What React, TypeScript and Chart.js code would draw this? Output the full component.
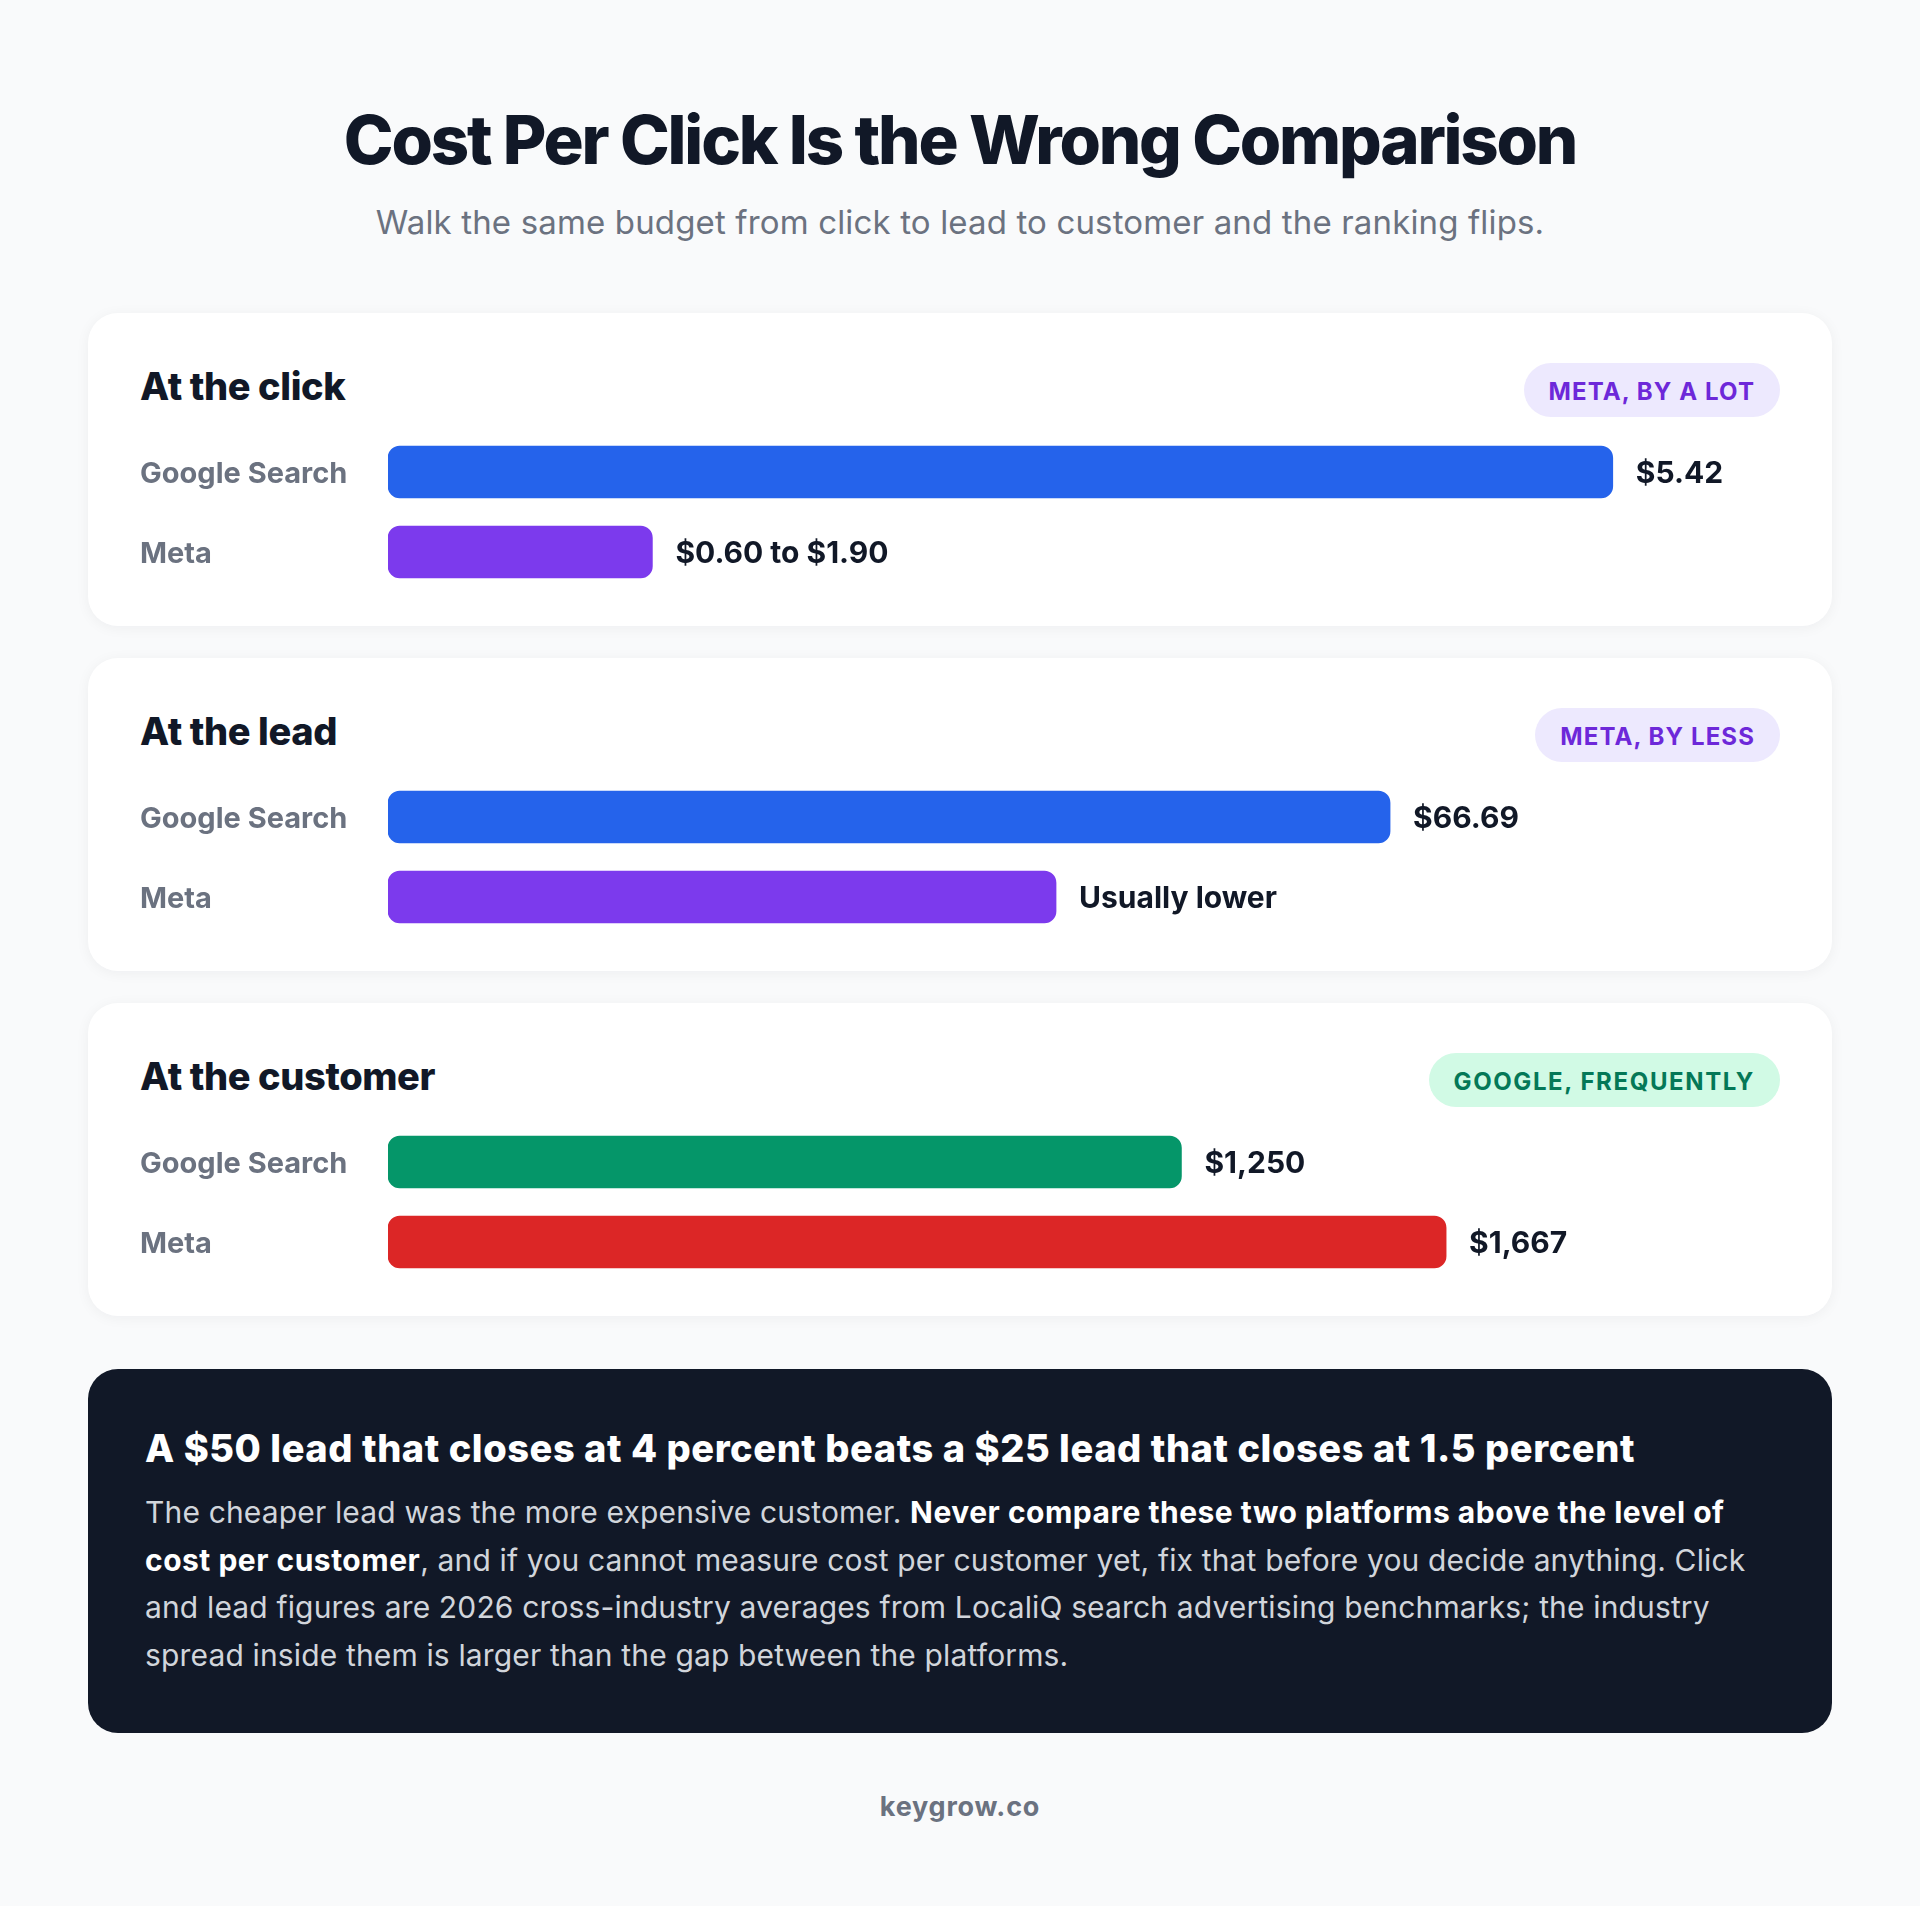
import React, { useEffect, useRef } from "react";
import { Chart, registerables } from "chart.js";

Chart.register(...registerables);

// ---------- data ----------
const platforms = ["Google Search", "Meta"];
const stageTitles = ["At the click", "At the lead", "At the customer"];
const stageBadges = ["META, BY A LOT", "META, BY LESS", "GOOGLE, FREQUENTLY"];
const clickValues = [5.42, 1.17];
const leadValues = [66.69, 44.46];
const customerValues = [1250, 1667];
const clickLabels = ["$5.42", "$0.60 to $1.90"];
const leadLabels = ["$66.69", "Usually lower"];
const customerLabels = ["$1,250", "$1,667"];
const stageAxisMax = [6.16, 92.64, 2193];
const clickColors = ["#2563eb", "#7c3aed"];
const leadColors = ["#2563eb", "#7c3aed"];
const customerColors = ["#059669", "#dc2626"];
const badgeThemes = ["purple", "purple", "green"];

const stages = [
  { title: stageTitles[0], badge: stageBadges[0], values: clickValues, labels: clickLabels, colors: clickColors, max: stageAxisMax[0], theme: badgeThemes[0] },
  { title: stageTitles[1], badge: stageBadges[1], values: leadValues, labels: leadLabels, colors: leadColors, max: stageAxisMax[1], theme: badgeThemes[1] },
  { title: stageTitles[2], badge: stageBadges[2], values: customerValues, labels: customerLabels, colors: customerColors, max: stageAxisMax[2], theme: badgeThemes[2] },
];

const FONT = "Inter, 'Noto Sans', sans-serif";

function StageChart({ values, labels, colors, max }: { values: number[]; labels: string[]; colors: string[]; max: number }) {
  const ref = useRef<HTMLCanvasElement | null>(null);
  useEffect(() => {
    if (!ref.current) return;
    const valueLabelPlugin = {
      id: "valueLabels",
      afterDatasetsDraw(chart: any) {
        const ctx = chart.ctx;
        const meta = chart.getDatasetMeta(0);
        ctx.save();
        ctx.font = `700 30px ${FONT}`;
        ctx.fillStyle = "#111827";
        ctx.textAlign = "left";
        ctx.textBaseline = "middle";
        meta.data.forEach((el: any, i: number) => {
          ctx.fillText(labels[i], el.x + 23, el.y + 2);
        });
        ctx.restore();
      },
    };
    const chart = new Chart(ref.current, {
      type: "bar",
      data: {
        labels: platforms,
        datasets: [
          {
            data: values,
            backgroundColor: colors,
            borderRadius: 12,
            borderSkipped: false,
            barThickness: 52,
          },
        ],
      },
      options: {
        indexAxis: "y",
        animation: false,
        responsive: false,
        devicePixelRatio: 1,
        layout: { padding: 0 },
        plugins: { legend: { display: false }, tooltip: { enabled: false } },
        scales: {
          x: { display: false, min: 0, max: max },
          y: {
            grid: { display: false, drawTicks: false },
            border: { display: false },
            afterFit: (scale: any) => {
              scale.width = 248;
              scale.paddingTop = 0;
              scale.paddingBottom = 0;
            },
            ticks: {
              crossAlign: "far",
              padding: 0,
              labelOffset: 2,
              color: "#6b7280",
              font: { family: FONT, size: 29, weight: "700" as any },
            },
          },
        },
      } as any,
      plugins: [valueLabelPlugin],
    });
    return () => chart.destroy();
  }, [values, labels, colors, max]);
  return <canvas ref={ref} width={1640} height={160} style={{ position: "absolute", left: 52, top: 119, width: 1640, height: 160 }} />;
}

function Badge({ text, theme }: { text: string; theme: string }) {
  const bg = theme === "green" ? "#d1fae5" : "#ede9fe";
  const fg = theme === "green" ? "#047857" : "#6d28d9";
  return (
    <div
      style={{
        position: "absolute",
        right: 52,
        top: 50,
        height: 54,
        boxSizing: "border-box",
        padding: "3px 25px 0 25px",
        borderRadius: 27,
        background: bg,
        color: fg,
        display: "flex",
        alignItems: "center",
        fontFamily: FONT,
        fontWeight: 700,
        fontSize: 24,
        letterSpacing: theme === "green" ? "1.6px" : "1.1px",
        lineHeight: "30px",
        whiteSpace: "nowrap",
      }}
    >
      {text}
    </div>
  );
}

export default function App() {
  const cardTops = [313, 658, 1003];
  const bold = { color: "#ffffff", fontWeight: 700, letterSpacing: "0.5px" } as const;
  return (
    <div
      style={{
        position: "absolute",
        left: 0,
        top: 0,
        width: 1920,
        height: 1906,
        background: "#f9fafb",
        fontFamily: FONT,
        overflow: "hidden",
      }}
    >
      <div
        style={{
          position: "absolute",
          top: 100,
          left: 0,
          width: 1920,
          textAlign: "center",
          fontSize: 67,
          lineHeight: "80px",
          fontWeight: 800,
          letterSpacing: "-2.2px",
          color: "#111827",
          whiteSpace: "nowrap",
        }}
      >
        Cost Per Click Is the Wrong Comparison
      </div>
      <div
        style={{
          position: "absolute",
          top: 202,
          left: 0,
          width: 1920,
          textAlign: "center",
          fontSize: 33,
          lineHeight: "40px",
          fontWeight: 400,
          letterSpacing: "0.15px",
          color: "#6b7280",
          whiteSpace: "nowrap",
        }}
      >
        Walk the same budget from click to lead to customer and the ranking flips.
      </div>

      {stages.map((s, i) => (
        <div
          key={s.title}
          style={{
            position: "absolute",
            left: 88,
            top: cardTops[i],
            width: 1744,
            height: 313,
            background: "#ffffff",
            borderRadius: 30,
            boxShadow: "0 2px 14px rgba(17,24,39,0.05)",
          }}
        >
          <div
            style={{
              position: "absolute",
              left: 52,
              top: 49,
              fontSize: 38,
              lineHeight: "48px",
              fontWeight: 800,
              letterSpacing: "-0.4px",
              color: "#111827",
              whiteSpace: "nowrap",
            }}
          >
            {s.title}
          </div>
          <Badge text={s.badge} theme={s.theme} />
          <StageChart values={s.values} labels={s.labels} colors={s.colors} max={s.max} />
        </div>
      ))}

      <div
        style={{
          position: "absolute",
          left: 88,
          top: 1369,
          width: 1744,
          height: 364,
          background: "#111827",
          borderRadius: 30,
        }}
      >
        <div
          style={{
            position: "absolute",
            left: 57,
            top: 57,
            fontSize: 38,
            lineHeight: "44px",
            fontWeight: 800,
            letterSpacing: "0.55px",
            color: "#ffffff",
            whiteSpace: "nowrap",
          }}
        >
          A $50 lead that closes at 4 percent beats a $25 lead that closes at 1.5 percent
        </div>
        <div
          style={{
            position: "absolute",
            left: 57,
            top: 120,
            fontSize: 30,
            lineHeight: "47.5px",
            fontWeight: 400,
            letterSpacing: "0.15px",
            color: "#d1d5db",
            whiteSpace: "nowrap",
          }}
        >
          The cheaper lead was the more expensive customer.{" "}
          <b style={bold}>Never compare these two platforms above the level of</b>
          <br />
          <b style={bold}>cost per customer</b>, and if you cannot measure cost per customer yet, fix that before you decide anything. Click
          <br />
          and lead figures are 2026 cross-industry averages from LocaliQ search advertising benchmarks; the industry
          <br />
          spread inside them is larger than the gap between the platforms.
        </div>
      </div>

      <div
        style={{
          position: "absolute",
          top: 1791,
          left: 0,
          width: 1920,
          textAlign: "center",
          fontSize: 27,
          lineHeight: "32px",
          fontWeight: 700,
          color: "#6b7280",
          letterSpacing: "0.8px",
        }}
      >
        keygrow.co
      </div>
    </div>
  );
}
